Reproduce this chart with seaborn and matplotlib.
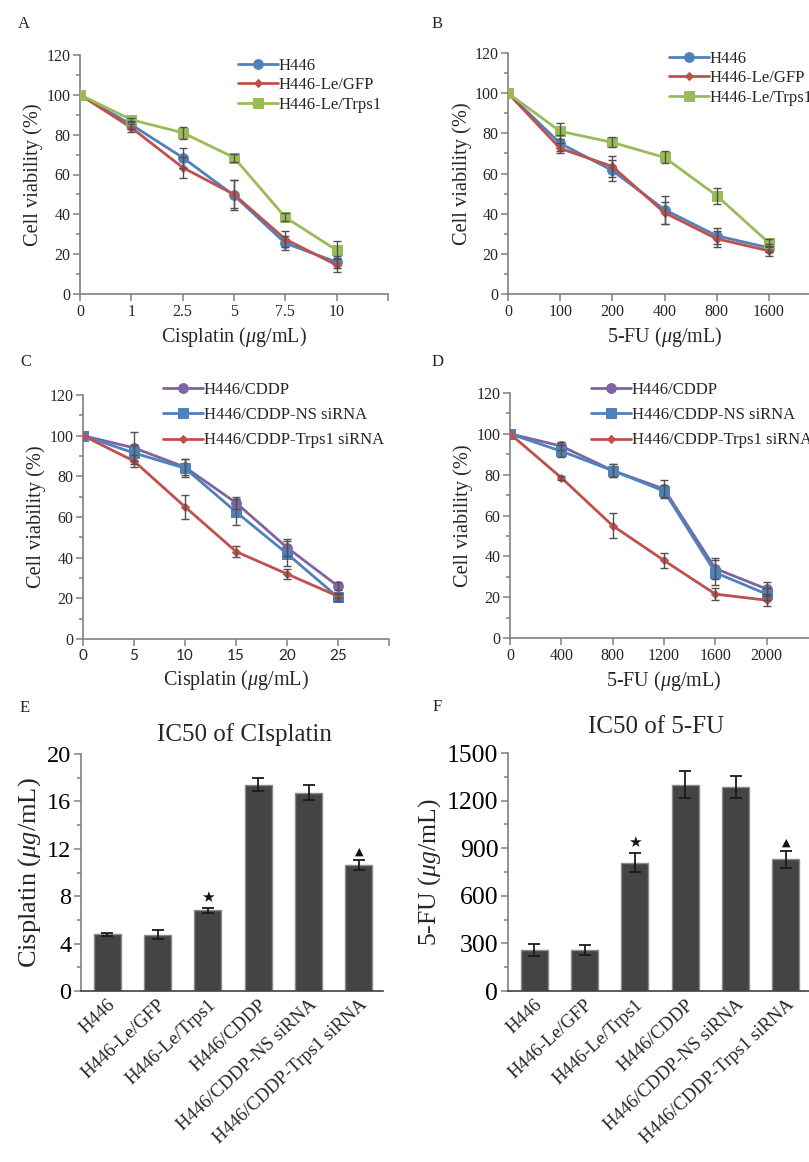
import numpy as np
import seaborn as sns
import matplotlib.pyplot as plt

# ---- data ----
dose_a = ["0", "1", "2.5", "5", "7.5", "10"]
dose_b = ["0", "100", "200", "400", "800", "1600"]
dose_c = ["0", "5", "10", "15", "20", "25"]
dose_d = ["0", "400", "800", "1200", "1600", "2000"]

# A: cisplatin, parental lines
a_h446 = [100, 85, 68.5, 49.5, 25.5, 16]
a_h446_err = [0, 2, 5, 7.5, 3.5, 3]
a_gfp = [100, 83.5, 63.5, 50, 27.5, 14.5]
a_gfp_err = [0, 2, 5.5, 7, 4, 3.5]
a_trps1 = [100, 87.5, 81, 68.5, 38.5, 22]
a_trps1_err = [0, 1, 3, 2, 2, 4.5]

# B: 5-FU, parental lines
b_h446 = [100, 75, 61.5, 42, 29, 23]
b_h446_err = [0, 4, 5, 7, 4, 2]
b_gfp = [100, 72.5, 63.5, 40.5, 27.5, 21.5]
b_gfp_err = [0, 2.5, 5, 5.5, 4, 2.5]
b_trps1 = [100, 81, 75.5, 68, 49, 25.5]
b_trps1_err = [0, 4, 2.5, 3, 4, 2]

# C: cisplatin, resistant lines
c_cddp = [100, 94, 84.5, 67, 45, 26]
c_cddp_err = [0, 8, 4, 3, 4, 2]
c_ns = [100, 91.5, 84, 62.5, 42, 20.5]
c_ns_err = [0, 4, 4.5, 6.5, 6, 2]
c_si = [100, 87.5, 65, 43, 32, 21]
c_si_err = [0, 3, 6, 2.5, 2.5, 1]

# D: 5-FU, resistant lines
d_cddp = [100, 94, 82, 73, 34, 24]
d_cddp_err = [0, 2, 3, 4.5, 5, 3.5]
d_ns = [100, 91.5, 82, 72, 32, 21.5]
d_ns_err = [0, 3, 3, 3, 6, 3]
d_si = [100, 78.5, 55, 38, 21.5, 18.5]
d_si_err = [0, 1, 6, 3.5, 3, 3]

# E/F: IC50
groups = ["H446", "H446-Le/GFP", "H446-Le/Trps1", "H446/CDDP",
          "H446/CDDP-NS siRNA", "H446/CDDP-Trps1 siRNA"]
ic50_cis = [4.8, 4.75, 6.8, 17.4, 16.75, 10.65]
ic50_cis_err = [0.12, 0.37, 0.2, 0.56, 0.65, 0.42]
ic50_fu = [258, 258, 808, 1301, 1284, 829]
ic50_fu_err = [37, 32, 60, 84, 68, 53]
marks = ["", "", "\u2605", "", "", "\u25B2"]

BLUE, RED, GREEN, PURPLE = "#4F81BD", "#C0504D", "#9BBB59", "#8064A2"
AXC = "#808080"

sns.set_style("ticks")
plt.rcParams["font.family"] = ["Liberation Serif", "DejaVu Sans"]
plt.rcParams["mathtext.fontset"] = "custom"
plt.rcParams["mathtext.rm"] = "Liberation Serif"
plt.rcParams["mathtext.it"] = "Liberation Serif:italic"

W, H = 809, 1162
fig = plt.figure(figsize=(W / 100, H / 100), dpi=100)


def box(left, top, right, bottom):
    return [left / W, 1 - bottom / H, (right - left) / W, (bottom - top) / H]


def style_axes(ax):
    for s in ["top", "right"]:
        ax.spines[s].set_visible(False)
    for s in ["left", "bottom"]:
        ax.spines[s].set_color(AXC)
        ax.spines[s].set_linewidth(1.2)
    ax.tick_params(which="both", direction="out", color=AXC, width=1.1)
    ax.tick_params(which="major", length=5)
    ax.tick_params(which="minor", length=3)


def curve_panel(ax, doses, series, xlabel, legend_xy, spacing, xfont=None):
    pos = np.arange(len(doses))
    for name, vals, errs, color, marker, ms in series:
        sns.lineplot(x=pos, y=vals, ax=ax, color=color, marker=marker,
                     markersize=ms, markeredgecolor=color, linewidth=2,
                     label=name, zorder=3)
        ax.errorbar(pos[1:], vals[1:], yerr=errs[1:], fmt="none",
                    ecolor="#505050", elinewidth=1, capsize=3, capthick=1,
                    zorder=4)
    ax.set_xlim(0, 6)
    ax.set_ylim(0, 120)
    ax.set_xticks(range(7))
    ax.set_xticklabels(doses + [""])
    ax.set_yticks(range(0, 121, 20))
    ax.set_yticks(range(10, 120, 20), minor=True)
    style_axes(ax)
    ax.tick_params(axis="both", labelsize=11.5, pad=2)
    if xfont:
        for t in ax.get_xticklabels():
            t.set_fontfamily(xfont)
            t.set_fontsize(11)
    ax.set_xlabel(xlabel, fontsize=14.5, labelpad=4)
    ax.set_ylabel("Cell viability (%)", fontsize=14.7, labelpad=2)
    ax.legend(loc="upper left", bbox_to_anchor=legend_xy,
              bbox_transform=fig.transFigure, frameon=False, fontsize=12,
              handlelength=2.4, handletextpad=0.05, labelspacing=spacing,
              borderaxespad=0, borderpad=0)


def bar_panel(ax, vals, errs, ymax, step, ylabel, yfs, tfs, title, title_xy):
    sns.barplot(x=groups, y=vals, ax=ax, color="#444444", saturation=1,
                edgecolor="#8a8a8a", linewidth=1, width=0.54)
    pos = np.arange(len(groups))
    ax.errorbar(pos, vals, yerr=errs, fmt="none", ecolor="#1a1a1a",
                elinewidth=1.3, capsize=4, capthick=1.3, zorder=5)
    for p, v, e, m in zip(pos, vals, errs, marks):
        if m:
            ax.text(p, v + e + ymax * 0.015, m, ha="center", va="bottom",
                    fontsize=11 if m == "\u2605" else 8,
                    family="DejaVu Sans", color="#111122")
    ax.set_xlim(-0.52, 5.48)
    ax.set_ylim(0, ymax)
    ax.set_yticks(np.arange(0, ymax + 1, step))
    ax.set_yticks(np.arange(step / 2, ymax, step), minor=True)
    style_axes(ax)
    ax.spines["bottom"].set_color("#404040")
    ax.tick_params(axis="x", length=0, pad=4)
    ax.tick_params(axis="y", labelsize=tfs, pad=2, colors="black")
    ax.tick_params(axis="y", which="both", color=AXC)
    for t in ax.get_xticklabels():
        t.set_rotation(43)
        t.set_ha("right")
        t.set_rotation_mode("anchor")
        t.set_fontsize(13.5)
    ax.set_xlabel("")
    ax.set_ylabel(ylabel, fontsize=yfs, labelpad=3)
    fig.text(title_xy[0] / W, 1 - title_xy[1] / H, title, ha="center",
             va="center", fontsize=18)


ax_a = fig.add_axes(box(80, 55, 388, 294))
curve_panel(ax_a, dose_a,
            [("H446", a_h446, a_h446_err, BLUE, "o", 7),
             ("H446-Le/GFP", a_gfp, a_gfp_err, RED, "D", 4.5),
             ("H446-Le/Trps1", a_trps1, a_trps1_err, GREEN, "s", 7)],
            "Cisplatin ($\\mu$g/mL)", (238 / W, 1 - 58 / H), 0.2)

ax_b = fig.add_axes(box(508, 53, 821, 294))
curve_panel(ax_b, dose_b,
            [("H446", b_h446, b_h446_err, BLUE, "o", 7),
             ("H446-Le/GFP", b_gfp, b_gfp_err, RED, "D", 4.5),
             ("H446-Le/Trps1", b_trps1, b_trps1_err, GREEN, "s", 7)],
            "5-FU ($\\mu$g/mL)", (669 / W, 1 - 51 / H), 0.2)

ax_c = fig.add_axes(box(83, 395, 389, 639))
curve_panel(ax_c, dose_c,
            [("H446/CDDP", c_cddp, c_cddp_err, PURPLE, "o", 7),
             ("H446/CDDP-NS siRNA", c_ns, c_ns_err, BLUE, "s", 7),
             ("H446/CDDP-Trps1 siRNA", c_si, c_si_err, RED, "D", 4.5)],
            "Cisplatin ($\\mu$g/mL)", (163 / W, 1 - 382 / H), 0.55,
            xfont="Lato")

ax_d = fig.add_axes(box(510, 393, 818, 638))
curve_panel(ax_d, dose_d,
            [("H446/CDDP", d_cddp, d_cddp_err, PURPLE, "o", 7),
             ("H446/CDDP-NS siRNA", d_ns, d_ns_err, BLUE, "s", 7),
             ("H446/CDDP-Trps1 siRNA", d_si, d_si_err, RED, "D", 4.5)],
            "5-FU ($\\mu$g/mL)", (591 / W, 1 - 382 / H), 0.55)

ax_e = fig.add_axes(box(81, 754, 383, 991))
bar_panel(ax_e, ic50_cis, ic50_cis_err, 20, 4,
          "Cisplatin ($\\mu g$/mL)", 19, 17.5, "IC50 of CIsplatin", (244, 735))

ax_f = fig.add_axes(box(508, 753, 810, 991))
bar_panel(ax_f, ic50_fu, ic50_fu_err, 1500, 300,
          "5-FU ($\\mu g$/mL)", 18.5, 18.5, "IC50 of 5-FU", (656, 727))

for letter, x, y in [("A", 18, 24), ("B", 432, 24), ("C", 20, 362),
                     ("D", 432, 362), ("E", 20, 708), ("F", 433, 707)]:
    fig.text(x / W, 1 - y / H, letter, ha="left", va="center", fontsize=12)

fig.savefig("out.png", dpi=100)
